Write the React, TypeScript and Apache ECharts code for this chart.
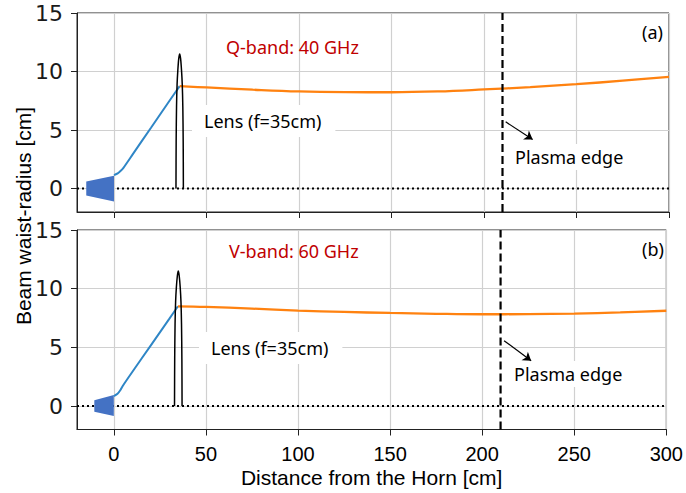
import React, { useEffect, useRef } from "react";
import * as echarts from "echarts";

// ---- data ----
const xTicks = [0, 50, 100, 150, 200, 250, 300];
const yTicks = [0, 5, 10, 15];
const xRange = [-20, 300];
const yRange = [-2, 15];
const plasmaEdge = 210;

// Q-band (40 GHz)
const qHorn = [[-15, 0.6], [0, 1.1], [0, -1.1], [-15, -0.6]];
const qBeamIn = [[0, 1.15], [2, 1.3], [3.5, 1.5], [5, 1.75], [10, 2.9], [20, 5.2], [30, 7.5], [35.5, 8.75]];
const qBeamOut = [[35.5, 8.75], [50, 8.64], [75, 8.45], [100, 8.3], [125, 8.24], [150, 8.23], [175, 8.3], [200, 8.47], [225, 8.67], [250, 8.92], [275, 9.22], [300, 9.55]];
const qLens = [[33.5, 0], [33.6, 4], [33.8, 7], [34.1, 8.9], [34.5, 10.1], [35, 11.1], [35.5, 11.5], [36, 11.1], [36.5, 10.1], [36.9, 8.9], [37.2, 7], [37.4, 4], [37.5, 0]];
const qArrow = [[211.7, 5.7], [226.3, 4.2]];

// V-band (60 GHz)
const vHorn = [[-10.6, 0.5], [0, 0.94], [0, -0.85], [-10.6, -0.49]];
const vBeamIn = [[0, 0.85], [2, 1.05], [3.5, 1.35], [5, 1.75], [10, 2.9], [20, 5.15], [30, 7.4], [34.8, 8.5]];
const vBeamOut = [[34.8, 8.5], [50, 8.45], [75, 8.3], [100, 8.13], [125, 8.02], [150, 7.93], [175, 7.86], [200, 7.82], [225, 7.83], [250, 7.88], [275, 7.98], [300, 8.12]];
const vLens = [[32.95, 0], [33.05, 4], [33.25, 7], [33.55, 8.9], [33.95, 10.1], [34.5, 11.1], [35, 11.5], [35.5, 11.1], [36.05, 10.1], [36.45, 8.9], [36.75, 7], [36.95, 4], [37.05, 0]];
const vArrow = [[211.9, 5.57], [226.6, 3.86]];

const zeroLine = [[xRange[0], 0], [xRange[1], 0]];
const plasmaLine = [[plasmaEdge, yRange[0]], [plasmaEdge, yRange[1]]];

const BLUE = "#2f86c6";
const ORANGE = "#ff8210";
const HORN = "#4472c4";

function panelSeries(i: number, horn: number[][], beamIn: number[][], beamOut: number[][], lens: number[][], arrow: number[][]) {
  const ax = { xAxisIndex: i, yAxisIndex: i };
  return [
    {
      type: "line", ...ax, data: zeroLine, showSymbol: false, symbol: "none", z: 2,
      lineStyle: { color: "#000", width: 2, type: [2, 3] },
    },
    {
      type: "custom", ...ax, data: [[0, 0]], z: 3,
      renderItem: (_p: any, api: any) => ({
        type: "polygon",
        shape: { points: horn.map((pt) => api.coord(pt)) },
        style: { fill: HORN },
      }),
    },
    {
      type: "line", ...ax, data: beamIn, symbol: "none", smooth: 0.2, z: 4,
      lineStyle: { color: BLUE, width: 2 },
    },
    {
      type: "line", ...ax, data: beamOut, symbol: "none", smooth: 0.4, z: 4,
      lineStyle: { color: ORANGE, width: 2.3 },
    },
    {
      type: "line", ...ax, data: lens, symbol: "none", smooth: 0.3, z: 5,
      lineStyle: { color: "#000", width: 1.5 },
    },
    {
      type: "line", ...ax, data: plasmaLine, symbol: "none", z: 5,
      lineStyle: { color: "#000", width: 2.2, type: [8, 4] },
      markLine: {
        silent: true,
        symbol: ["none", "arrow"],
        symbolSize: 8,
        label: { show: false },
        lineStyle: { color: "#000", width: 1.2, type: "solid" },
        data: [[{ coord: arrow[0] }, { coord: arrow[1] }]],
      },
    },
  ];
}

function xAxisCfg(i: number, showLabels: boolean) {
  return {
    type: "value", gridIndex: i, min: xRange[0], max: xRange[1],
    axisLine: { show: true, onZero: false, lineStyle: { color: "#222", width: 1 } },
    axisTick: { show: true, length: 6, inside: false, customValues: xTicks, lineStyle: { color: "#222" } },
    axisLabel: {
      show: showLabels, customValues: xTicks, margin: 14,
      fontFamily: "Liberation Sans", fontSize: 20, color: "#000",
    },
    splitLine: { show: true, lineStyle: { color: "#d0d0d0", width: 1.2 } },
    ...(showLabels
      ? {
          name: "Distance from the Horn [cm]", nameLocation: "middle", nameGap: 37,
          nameTextStyle: { fontFamily: "Liberation Sans", fontSize: 21, color: "#000" },
        }
      : {}),
  };
}

function yAxisCfg(i: number) {
  return {
    type: "value", gridIndex: i, min: yRange[0], max: yRange[1],
    axisLine: { show: true, onZero: false, lineStyle: { color: "#222", width: 1 } },
    axisTick: { show: true, length: 6, inside: false, customValues: yTicks, lineStyle: { color: "#222" } },
    axisLabel: {
      customValues: yTicks, margin: 14,
      fontFamily: "DejaVu Sans", fontSize: 22, color: "#1a1a1a",
    },
    splitLine: { show: true, lineStyle: { color: "#d0d0d0", width: 1.2 } },
  };
}

const annFont = '18px "Noto Sans"';

function txt(x: number, y: number, text: string, fill: string, extra: any = {}) {
  return {
    type: "text", x, y, z: 1,
    style: { text, font: annFont, fill, align: "left", verticalAlign: "middle", ...extra },
  };
}

export default function App() {
  const ref = useRef<HTMLDivElement>(null);
  useEffect(() => {
    if (!ref.current) return;
    const chart = echarts.init(ref.current, undefined, { renderer: "svg" });
    chart.setOption({
      animation: false,
      backgroundColor: "#fff",
      grid: [
        { left: 77, right: 17, top: 13, height: 199, show: true, borderColor: "#222", borderWidth: 1, backgroundColor: "transparent" },
        { left: 77, right: 17, top: 230, height: 199.5, show: true, borderColor: "#222", borderWidth: 1, backgroundColor: "transparent" },
      ],
      xAxis: [xAxisCfg(0, false), xAxisCfg(1, true)],
      yAxis: [yAxisCfg(0), yAxisCfg(1)],
      series: [
        ...panelSeries(0, qHorn, qBeamIn, qBeamOut, qLens, qArrow),
        ...panelSeries(1, vHorn, vBeamIn, vBeamOut, vLens, vArrow),
      ],
      graphic: [
        txt(226, 47, "Q-band: 40 GHz", "#c00000"),
        txt(192, 121, "Lens (f=35cm)", "#000", { backgroundColor: "#fff", padding: [7, 14, 7, 12] }),
        txt(507, 157, "Plasma edge", "#000", { backgroundColor: "#fff", padding: [4, 8, 4, 8] }),
        txt(642, 32, "(a)", "#000"),
        txt(229, 251, "V-band: 60 GHz", "#c00000"),
        txt(199, 348, "Lens (f=35cm)", "#000", { backgroundColor: "#fff", padding: [7, 14, 7, 12] }),
        txt(506, 374, "Plasma edge", "#000", { backgroundColor: "#fff", padding: [4, 8, 4, 8] }),
        txt(642, 249, "(b)", "#000"),
        {
          type: "text", x: 23, y: 216, rotation: Math.PI / 2, z: 1,
          style: {
            text: "Beam waist-radius [cm]", font: '21px "Liberation Sans"', fill: "#000",
            align: "center", verticalAlign: "middle",
          },
        },
      ],
    });
    return () => chart.dispose();
  }, []);
  return (
    <div
      ref={ref}
      style={{ position: "fixed", left: 0, top: 0, width: 686, height: 493, background: "#fff" }}
    />
  );
}
